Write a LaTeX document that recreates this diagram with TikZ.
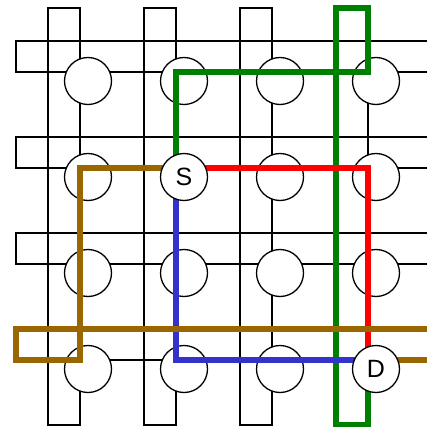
\documentclass[tikz,border=0pt]{standalone}
\usepackage{fontspec}
\setmainfont{Liberation Sans}
\usetikzlibrary{backgrounds}
\definecolor{RouteGreen}{HTML}{008000}
\definecolor{RouteRed}{HTML}{FF0000}
\definecolor{RouteBlue}{HTML}{3333CC}
\definecolor{RouteBrown}{HTML}{996600}
\pgfdeclarelayer{grid}
\pgfdeclarelayer{routers}
\pgfdeclarelayer{routes}
\pgfsetlayers{grid,routers,routes,main}

\begin{document}
\begin{tikzpicture}[x=1pt,y=-1pt,
router/.style={draw,circle,fill=white,line width=1.3pt,minimum size=47pt,inner sep=0pt,font=\fontsize{25}{25}\selectfont},
wire/.style={line width=1.3pt},
route/.style={line width=6.5pt}
]
\clip (0,0) rectangle (426,427);
% torus links
\begin{pgfonlayer}{grid}
\foreach \k in {0,...,3}{
  \draw[wire] (16,{41+96*\k}) rectangle (440,{72+96*\k});
  \draw[wire] ({48+96*\k},8) rectangle ({80+96*\k},425);
}
\end{pgfonlayer}
\begin{pgfonlayer}{routers}
\foreach \c in {1,...,4}{
  \foreach \r in {1,...,4}{
    \pgfmathtruncatemacro\isend{((\c==2)&&(\r==2))||((\c==4)&&(\r==4))}
    \ifnum\isend=0
      \node[router] (n\c\r) at ({88+96*(\c-1)},{81+96*(\r-1)}) {};
    \fi
  }
}
\end{pgfonlayer}
\node[router] (S) at (184,177) {S};
\node[router] (D) at (376,369) {D};
% routes from S to D
\begin{pgfonlayer}{routes}
\draw[route,RouteGreen] ([xshift=-8pt]S.center) -- (176,72) -- (368,72) -- (368,8) -- (336,8) -- (336,425) -- (368,425) -- ([xshift=-8pt]D.center);
\draw[route,RouteRed] ([yshift=9pt]S.center) -| ([xshift=-8pt]D.center);
\draw[route,RouteBlue] ([xshift=-8pt]S.center) |- ([yshift=9pt]D.center);
\draw[route,RouteBrown] ([yshift=9pt]S.center) -- (80,168) -- (80,360) -- (16,360) -- (16,329) -- (440,329);
\draw[route,RouteBrown] ([yshift=9pt]D.center) -- (440,360);
\end{pgfonlayer}
\end{tikzpicture}
\end{document}
